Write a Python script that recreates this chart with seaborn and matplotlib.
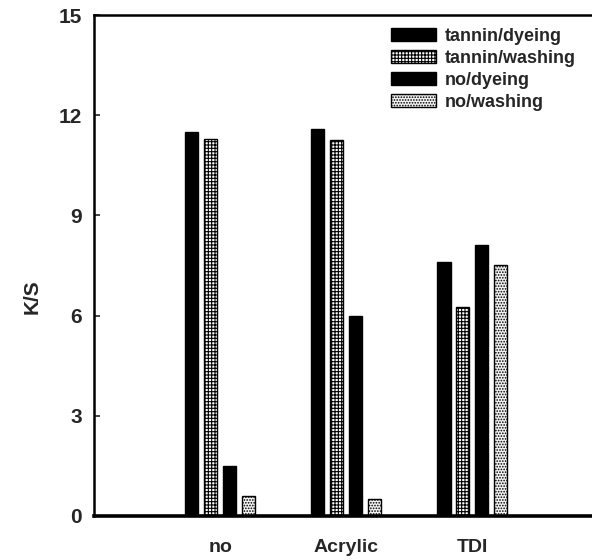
import pandas as pd
import matplotlib
matplotlib.use("Agg")
import matplotlib.pyplot as plt
import seaborn as sns

# values (K/S)
groups = ["no", "Acrylic", "TDI"]
series = ["tannin/dyeing", "tannin/washing", "no/dyeing", "no/washing"]
tannin_dyeing = [11.5, 11.6, 7.6]
tannin_washing = [11.3, 11.25, 6.25]
no_dyeing = [1.5, 6.0, 8.1]
no_washing = [0.6, 0.5, 7.5]
yticks = [0, 3, 6, 9, 12, 15]

rows = []
for name, vals in zip(series, [tannin_dyeing, tannin_washing, no_dyeing, no_washing]):
    for g, v in zip(groups, vals):
        rows.append({"treatment": g, "series": name, "KS": v})
df = pd.DataFrame(rows)

sns.set_style("white")
plt.rcParams['font.family'] = ['Liberation Sans', 'DejaVu Sans']
plt.rcParams['font.weight'] = 'bold'
plt.rcParams['hatch.linewidth'] = 0.8

fig = plt.figure(figsize=(5.92, 5.6), dpi=100)
ax = fig.add_axes([0.159, 0.079, 0.841, 0.894])

sns.barplot(data=df, x="treatment", y="KS", hue="series", order=groups,
            hue_order=series, width=0.6, gap=0.3,
            palette=["black", "white", "black", "white"],
            edgecolor="black", linewidth=1.0, legend=False, ax=ax)

styles = [("black", ""), ("white", "+++++"), ("black", ""), ("#f2f2f2", "......")]
for cont, (fc, h) in zip(ax.containers, styles):
    for p in cont:
        p.set_facecolor(fc)
        p.set_hatch(h)
        p.set_edgecolor("black")

ax.legend(ax.containers, series, loc="upper right", bbox_to_anchor=(1.0, 1.007),
          frameon=False, handlelength=2.5, handleheight=0.7,
          labelspacing=0.28, handletextpad=0.5,
          prop={'weight': 'bold', 'size': 13})

ax.set_xlim(-1, 2.95)
ax.set_ylim(0, 15)
ax.set_yticks(yticks)
ax.set_yticklabels([str(t) for t in yticks], fontsize=15, fontweight='bold')
ax.set_xticklabels(groups, fontsize=14, fontweight='bold')
ax.tick_params(axis='y', direction='in', length=4, width=1.2, left=True, pad=9)
ax.tick_params(axis='x', length=0, pad=17)
ax.set_xlabel("")
ax.set_ylabel("K/S", fontsize=15, fontweight='bold')
ax.yaxis.set_label_coords(-0.105, 0.437)

for s in ["left", "top", "bottom"]:
    ax.spines[s].set_visible(True)
    ax.spines[s].set_color("black")
ax.spines["left"].set_linewidth(1.8)
ax.spines["top"].set_linewidth(1.8)
ax.spines["bottom"].set_linewidth(2.6)
ax.spines["right"].set_visible(False)

fig.savefig("out.png", dpi=100)
